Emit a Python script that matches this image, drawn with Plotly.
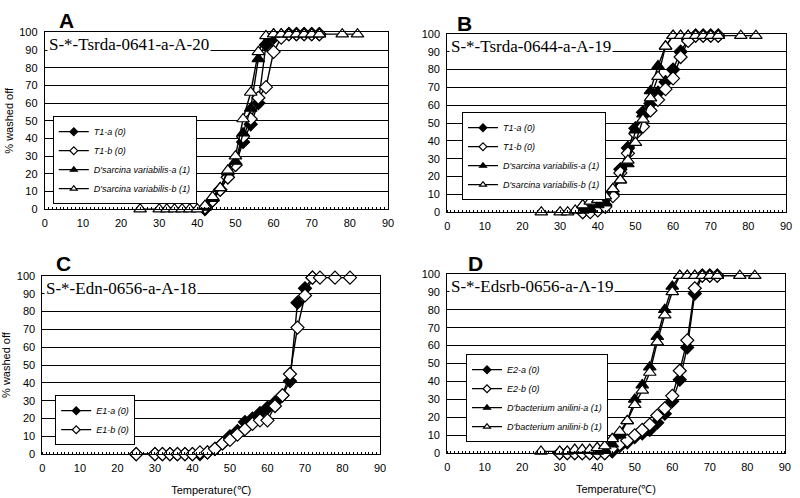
import plotly.graph_objects as go

# ---------------- data ----------------
T_full = [25, 30, 32, 34, 36, 38, 40, 42, 44, 46, 48, 50, 52, 54, 56, 58, 60, 62, 64, 66, 68, 70, 72]
T_full_ext = [25, 30, 32, 34, 36, 38, 40, 42, 44, 46, 48, 50, 52, 54, 56, 58, 60, 62, 64, 66, 68, 70, 72, 78, 82]
T_C_ext = [25, 30, 32, 34, 36, 38, 40, 42, 44, 46, 48, 50, 52, 54, 56, 58, 60, 62, 64, 66, 68, 70, 72, 74, 78, 82]
T_from42 = [42, 44, 46, 48, 50, 52, 54, 56, 58, 60, 62, 64, 66, 68, 70, 72]
T_from36 = [36, 38, 40, 42, 44, 46, 48, 50, 52, 54, 56, 58, 60, 62, 64, 66, 68, 70, 72]
T_from30 = [30, 32, 34, 36, 38, 40, 42, 44, 46, 48, 50, 52, 54, 56, 58, 60, 62, 64, 66, 68, 70, 72]
T_from40 = [40, 42, 44, 46, 48, 50, 52, 54, 56, 58, 60, 62, 64, 66, 68, 70, 72]

# Panel A
A_T1a = [0, 5, 11, 18, 25, 38, 48, 60, 93, 97, 98, 99, 99, 99, 99, 99]
A_T1b = [1, 5, 11, 18, 25, 41, 51, 63, 69, 89, 97, 99, 99, 99, 99, 99]
A_Da = [1, 6, 12, 21, 27, 43, 57, 85, 94, 99, 99, 99, 99, 99, 99, 99]
A_Db = [0, 0, 0, 0, 0, 0, 0, 2, 7, 12, 22, 30, 51, 66, 89, 98, 99, 99, 99, 99, 99, 99, 99, 99, 99]

# Panel B
B_T1a = [0, 1, 2, 4, 10, 24, 36, 47, 56, 61, 67, 73, 80, 90, 97, 99, 99, 99, 99]
B_T1b = [0, 0, 1, 3, 9, 22, 33, 44, 48, 57, 63, 69, 75, 87, 96, 99, 99, 99, 99]
B_Da = [1, 2, 4, 5, 13, 18, 27, 46, 55, 68, 82, 93, 99, 99, 99, 99, 99, 99, 99]
B_Db = [0, 0, 0, 1, 4, 6, 7, 9, 13, 18, 29, 39, 52, 64, 76, 93, 99, 99, 99, 99, 99, 99, 99, 99, 99]

# Panel C
C_E1a = [0, 0, 0, 0, 0, 0, 0, 0, 1, 3, 6, 10, 13, 18, 20, 23, 26, 29, 33, 41, 85, 93, 99]
C_E1b = [0, 0, 0, 0, 0, 0, 0, 1, 1, 3, 6, 8, 11, 14, 17, 19, 19, 27, 33, 45, 71, 89, 99, 99, 99, 99]

# Panel D
D_E2a = [0, 0, 0, 0, 0, 0, 0, 1, 4, 6, 9, 11, 13, 17, 22, 29, 41, 59, 89, 99, 99, 99]
D_E2b = [0, 0, 0, 0, 0, 0, 0, 3, 5, 7, 10, 13, 16, 21, 25, 32, 46, 63, 92, 99, 99, 99]
D_Da = [1, 2, 5, 10, 18, 30, 38, 48, 65, 80, 93, 99, 99, 99, 99, 99, 99]
D_Db = [1, 1, 1, 2, 2, 2, 3, 4, 8, 12, 18, 27, 35, 45, 62, 77, 90, 99, 99, 99, 99, 99, 99, 99, 99]

panel_letters = ["A", "B", "C", "D"]
panel_probes = ["S-*-Tsrda-0641-a-A-20", "S-*-Tsrda-0644-a-A-19",
                "S-*-Edn-0656-a-A-18", "S-*-Edsrb-0656-a-Λ-19"]
x_ticks = [0, 10, 20, 30, 40, 50, 60, 70, 80, 90]
y_ticks = [0, 10, 20, 30, 40, 50, 60, 70, 80, 90, 100]

# ---------------- styles ----------------
def mk(kind, size):
    fill = "black" if kind[0] == "f" else "white"
    sym = "diamond" if kind[1] == "d" else "triangle-up"
    return dict(symbol=sym, color=fill, line=dict(color="black", width=1.2), size=size)

SIZES = {"d": 10, "t": 11}

panels = [
    ("x", "y", "legend", [("T1-a (0)", T_from42, A_T1a, "fd"), ("T1-b (0)", T_from42, A_T1b, "od"),
                          ("D'sarcina variabilis-a (1)", T_from42, A_Da, "ft"),
                          ("D'sarcina variabilis-b (1)", T_full_ext, A_Db, "ot")]),
    ("x2", "y2", "legend2", [("T1-a (0)", T_from36, B_T1a, "fd"), ("T1-b (0)", T_from36, B_T1b, "od"),
                             ("D'sarcina variabilis-a (1)", T_from36, B_Da, "ft"),
                             ("D'sarcina variabilis-b (1)", T_full_ext, B_Db, "ot")]),
    ("x3", "y3", "legend3", [("E1-a (0)", T_full, C_E1a, "fd"), ("E1-b (0)", T_C_ext, C_E1b, "od")]),
    ("x4", "y4", "legend4", [("E2-a (0)", T_from30, D_E2a, "fd"), ("E2-b (0)", T_from30, D_E2b, "od"),
                             ("D'bacterium anilini-a (1)", T_from40, D_Da, "ft"),
                             ("D'bacterium anilini-b (1)", T_full_ext, D_Db, "ot")]),
]

fig = go.Figure()
for xa, ya, lg, series in panels:
    for name, xs, ys, st in series:
        fig.add_trace(go.Scatter(
            x=xs, y=ys, name=name, mode="lines+markers", xaxis=xa, yaxis=ya, showlegend=False,
            line=dict(color="black", width=1.4), marker=mk(st, SIZES[st[1]]), cliponaxis=False))
    # legend entries with small symbols, as in the original
    for name, xs, ys, st in series:
        fig.add_trace(go.Scatter(
            x=[None], y=[None], name=name, mode="lines+markers", xaxis=xa, yaxis=ya, legend=lg,
            line=dict(color="black", width=1.2), marker=mk(st, 6), showlegend=True))

x_domains = [[0.056, 0.485], [0.559, 0.9825], [0.053, 0.475], [0.559, 0.981]]
y_domains = [[0.580, 0.935], [0.574, 0.932], [0.088, 0.446], [0.090, 0.450]]

font_ax = dict(family="Liberation Sans, Arial", size=11, color="black")
layout = dict(
    width=800, height=498, margin=dict(l=0, r=0, t=0, b=0, autoexpand=False),
    paper_bgcolor="white", plot_bgcolor="white", showlegend=True,
)
for i in range(4):
    sfx = "" if i == 0 else str(i + 1)
    layout["xaxis" + sfx] = dict(
        domain=x_domains[i], range=[0, 90], tickvals=x_ticks, anchor="y" + sfx, automargin=False,
        showgrid=False, zeroline=False, showline=True, linecolor="black", linewidth=1, mirror=True,
        ticks="", tickfont=font_ax, ticklabelstandoff=4,
        minor=dict(ticks="inside", dtick=1, ticklen=2, tickcolor="black", showgrid=False),
        title=dict(text="Temperature(℃)" if i >= 2 else "", font=font_ax, standoff=12),
    )
    layout["yaxis" + sfx] = dict(
        domain=y_domains[i], range=[0, 100], tickvals=y_ticks, anchor="x" + sfx, automargin=True,
        showgrid=True, gridcolor="black", gridwidth=1, zeroline=False,
        showline=True, linecolor="black", linewidth=1, mirror=True, ticks="", tickfont=font_ax,
        ticklabelstandoff=4,
        title=dict(text="% washed off" if i in (0, 2) else "", font=font_ax, standoff=3),
    )

legend_pos = [(0.066, 0.590), (0.5775, 0.598), (0.069, 0.106), (0.5825, 0.112)]
for i, (lx, ly) in enumerate(legend_pos):
    key = "legend" if i == 0 else "legend" + str(i + 1)
    layout[key] = dict(
        x=lx, y=ly, xanchor="left", yanchor="bottom", bgcolor="white", bordercolor="black", borderwidth=1,
        font=dict(family="Liberation Sans, Arial", size=9, color="black", style="italic"),
        itemwidth=30, tracegroupgap=0,
    )

fig.update_layout(**layout)

letter_pos = [(0.071, 0.985), (0.569, 0.98), (0.068, 0.498), (0.582, 0.498)]
for i in range(4):
    sfx = "" if i == 0 else str(i + 1)
    fig.add_annotation(text="<b>%s</b>" % panel_letters[i], xref="paper", yref="paper",
                       x=letter_pos[i][0], y=letter_pos[i][1], xanchor="left", yanchor="top",
                       showarrow=False, font=dict(family="Liberation Sans, Arial", size=21, color="black"))
    fig.add_annotation(text=panel_probes[i], xref="x%s domain" % sfx, yref="y%s domain" % sfx,
                       x=0.005, y=0.995, xanchor="left", yanchor="top", showarrow=False,
                       bgcolor="white", borderpad=1,
                       font=dict(family="Liberation Serif, Times New Roman", size=17, color="black"))

# remove the browser's default page margin so the 800x498 figure fills the window exactly
fig.write_html("out.html", config={"displayModeBar": False},
               post_script="document.body.style.margin='0';")
